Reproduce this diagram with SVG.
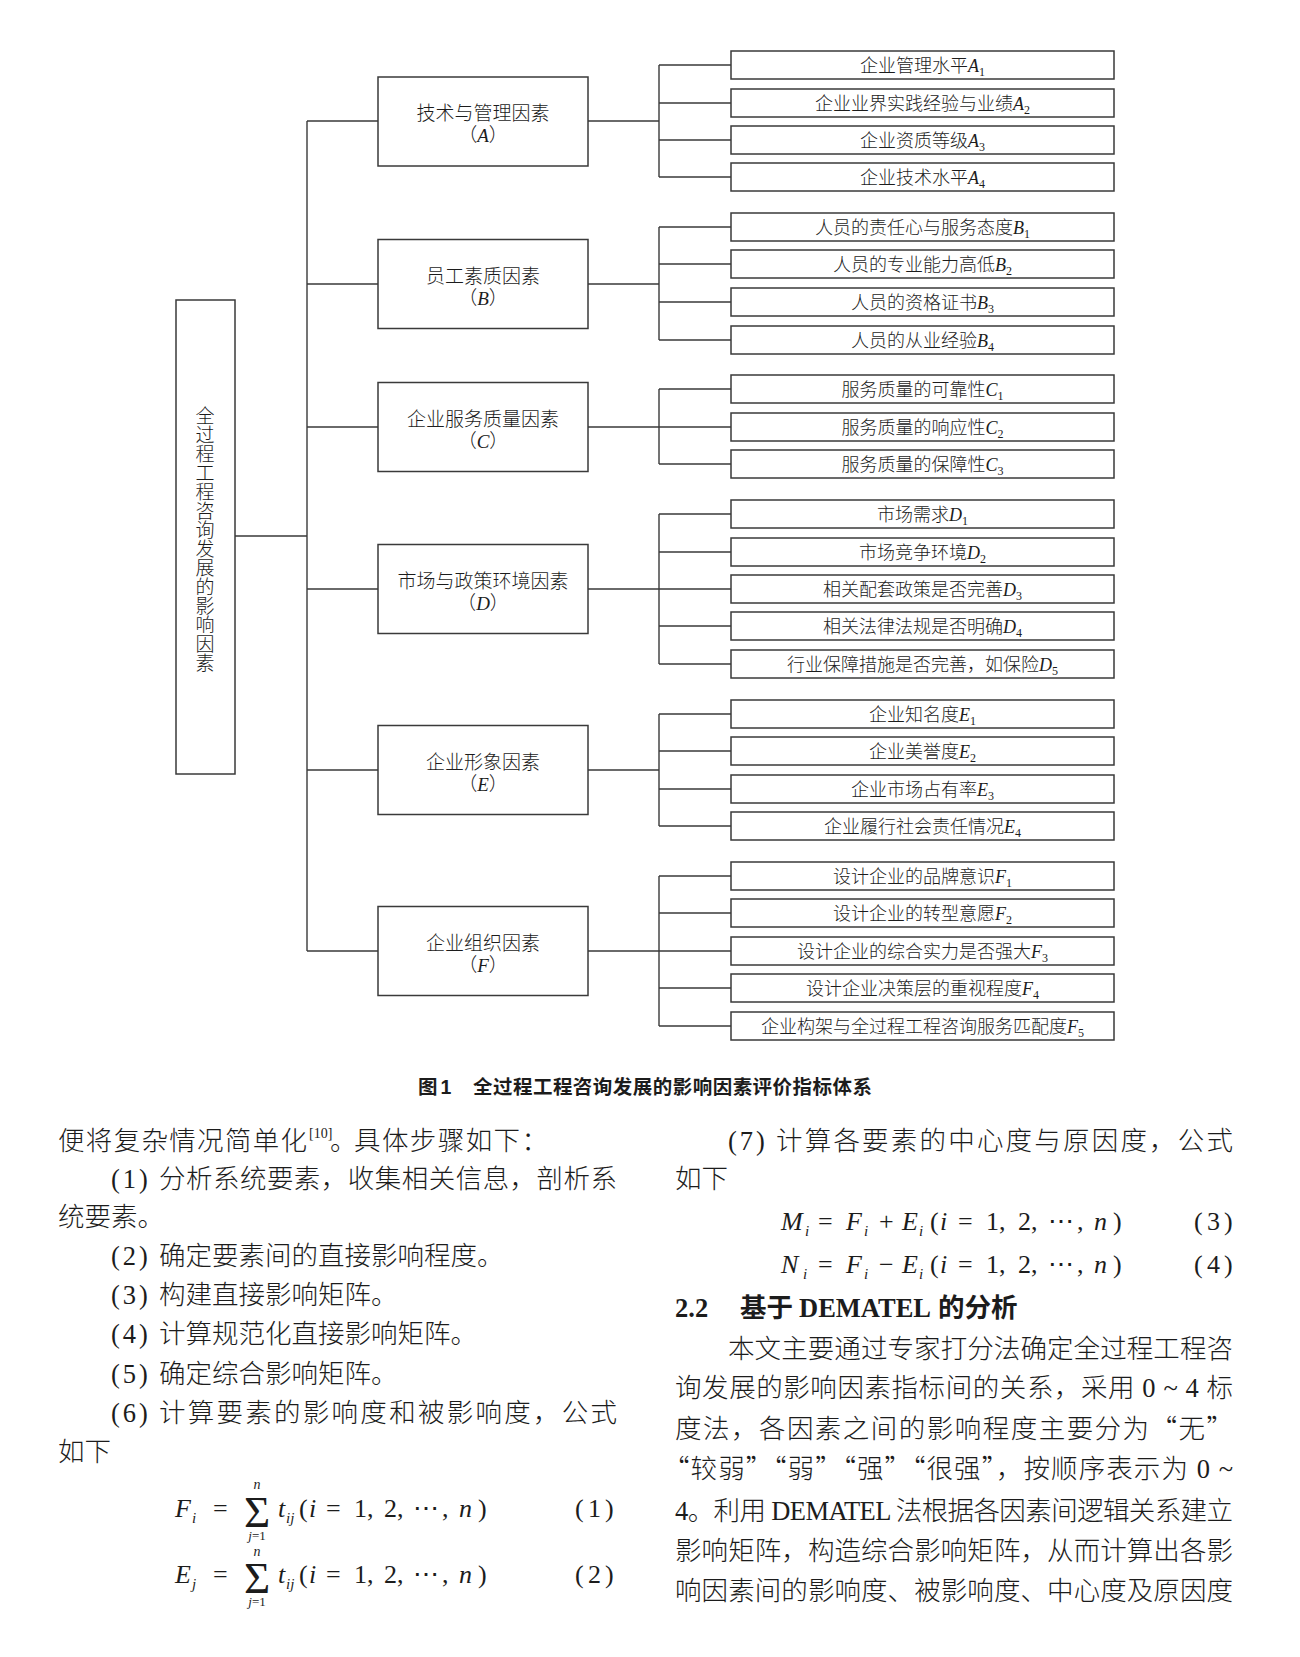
<svg xmlns="http://www.w3.org/2000/svg" width="1300" height="1657" viewBox="0 0 1300 1657">
<style>
.bg{fill:#fff}
.box{fill:#fff;stroke:#3a3a3a;stroke-width:1.5}
.ln{fill:none;stroke:#3a3a3a;stroke-width:1.4}
.cj{font-family:"Noto Sans CJK SC","Noto Sans CJK JP",sans-serif;fill:#1c1c1c;font-weight:300}
.lt{font-family:"Liberation Serif",serif;font-style:normal;font-weight:400}
.it{font-family:"Liberation Serif",serif;font-style:italic;font-weight:400}
.leaf{font-size:18px}
.cat{font-size:19px}
.body{font-size:26.5px}
.sub{font-size:12px}
.pre{letter-spacing:3px}
.eq{font-family:"Liberation Serif","DejaVu Serif",serif;font-size:26px;fill:#1c1c1c}
.eqs{font-family:"Liberation Serif",serif;font-style:italic;fill:#1c1c1c}
.sig{font-family:"Liberation Serif",serif;font-size:45px;fill:#1c1c1c}
.cap{font-family:"Noto Sans CJK SC",sans-serif;font-weight:700;font-size:19.5px;fill:#1c1c1c}
.hd{font-weight:700}
.hd .lt{font-weight:700}
.vt{writing-mode:vertical-rl;text-orientation:upright}
</style>
<rect class="bg" x="0" y="0" width="1300" height="1657"/>

<g id="connectors">
  <path class="ln" d="M235 536H307M307 121V951M307 121H378M307 284H378M307 427H378M307 589H378M307 770H378M307 951H378"/>
  <path class="ln" d="M588 121H659M659 65V177M659 65H731M659 103H731M659 140H731M659 177H731"/>
  <path class="ln" d="M588 284H659M659 227V340M659 227H731M659 264H731M659 302H731M659 340H731"/>
  <path class="ln" d="M588 427H659M659 389V464M659 389H731M659 427H731M659 464H731"/>
  <path class="ln" d="M588 589H659M659 514V664M659 514H731M659 552H731M659 589H731M659 626H731M659 664H731"/>
  <path class="ln" d="M588 770H659M659 714V826M659 714H731M659 751H731M659 789H731M659 826H731"/>
  <path class="ln" d="M588 951H659M659 876V1026M659 876H731M659 913H731M659 951H731M659 988H731M659 1026H731"/>
</g>

<g id="root">
  <rect class="box" x="176" y="300" width="59" height="474"/>
  <text class="cj cat vt" x="205" y="406">全过程工程咨询发展的影响因素</text>
</g>

<g id="cat-A"><rect class="box" x="378" y="77" width="210" height="89"/>
  <text class="cj cat" x="483" y="120" text-anchor="middle">技术与管理因素</text>
  <text class="cj cat" x="483" y="142" text-anchor="middle">（<tspan class="it">A</tspan>）</text></g>
<g id="cat-B"><rect class="box" x="378" y="239.5" width="210" height="89"/>
  <text class="cj cat" x="483" y="283" text-anchor="middle">员工素质因素</text>
  <text class="cj cat" x="483" y="305" text-anchor="middle">（<tspan class="it">B</tspan>）</text></g>
<g id="cat-C"><rect class="box" x="378" y="382.5" width="210" height="89"/>
  <text class="cj cat" x="483" y="426" text-anchor="middle">企业服务质量因素</text>
  <text class="cj cat" x="483" y="448" text-anchor="middle">（<tspan class="it">C</tspan>）</text></g>
<g id="cat-D"><rect class="box" x="378" y="544.5" width="210" height="89"/>
  <text class="cj cat" x="483" y="588" text-anchor="middle">市场与政策环境因素</text>
  <text class="cj cat" x="483" y="610" text-anchor="middle">（<tspan class="it">D</tspan>）</text></g>
<g id="cat-E"><rect class="box" x="378" y="725.5" width="210" height="89"/>
  <text class="cj cat" x="483" y="769" text-anchor="middle">企业形象因素</text>
  <text class="cj cat" x="483" y="791" text-anchor="middle">（<tspan class="it">E</tspan>）</text></g>
<g id="cat-F"><rect class="box" x="378" y="906.5" width="210" height="89"/>
  <text class="cj cat" x="483" y="950" text-anchor="middle">企业组织因素</text>
  <text class="cj cat" x="483" y="972" text-anchor="middle">（<tspan class="it">F</tspan>）</text></g>

<g id="leaf-A1"><rect class="box" x="731" y="51" width="383" height="28"/><text class="cj leaf" x="922.5" y="72" text-anchor="middle">企业管理水平<tspan class="it">A</tspan><tspan class="lt sub" dy="4">1</tspan></text></g>
<g id="leaf-A2"><rect class="box" x="731" y="89" width="383" height="28"/><text class="cj leaf" x="922.5" y="110" text-anchor="middle">企业业界实践经验与业绩<tspan class="it">A</tspan><tspan class="lt sub" dy="4">2</tspan></text></g>
<g id="leaf-A3"><rect class="box" x="731" y="126" width="383" height="28"/><text class="cj leaf" x="922.5" y="147" text-anchor="middle">企业资质等级<tspan class="it">A</tspan><tspan class="lt sub" dy="4">3</tspan></text></g>
<g id="leaf-A4"><rect class="box" x="731" y="163" width="383" height="28"/><text class="cj leaf" x="922.5" y="184" text-anchor="middle">企业技术水平<tspan class="it">A</tspan><tspan class="lt sub" dy="4">4</tspan></text></g>

<g id="leaf-B1"><rect class="box" x="731" y="213" width="383" height="28"/><text class="cj leaf" x="922.5" y="234" text-anchor="middle">人员的责任心与服务态度<tspan class="it">B</tspan><tspan class="lt sub" dy="4">1</tspan></text></g>
<g id="leaf-B2"><rect class="box" x="731" y="250" width="383" height="28"/><text class="cj leaf" x="922.5" y="271" text-anchor="middle">人员的专业能力高低<tspan class="it">B</tspan><tspan class="lt sub" dy="4">2</tspan></text></g>
<g id="leaf-B3"><rect class="box" x="731" y="288" width="383" height="28"/><text class="cj leaf" x="922.5" y="309" text-anchor="middle">人员的资格证书<tspan class="it">B</tspan><tspan class="lt sub" dy="4">3</tspan></text></g>
<g id="leaf-B4"><rect class="box" x="731" y="326" width="383" height="28"/><text class="cj leaf" x="922.5" y="347" text-anchor="middle">人员的从业经验<tspan class="it">B</tspan><tspan class="lt sub" dy="4">4</tspan></text></g>

<g id="leaf-C1"><rect class="box" x="731" y="375" width="383" height="28"/><text class="cj leaf" x="922.5" y="396" text-anchor="middle">服务质量的可靠性<tspan class="it">C</tspan><tspan class="lt sub" dy="4">1</tspan></text></g>
<g id="leaf-C2"><rect class="box" x="731" y="413" width="383" height="28"/><text class="cj leaf" x="922.5" y="434" text-anchor="middle">服务质量的响应性<tspan class="it">C</tspan><tspan class="lt sub" dy="4">2</tspan></text></g>
<g id="leaf-C3"><rect class="box" x="731" y="450" width="383" height="28"/><text class="cj leaf" x="922.5" y="471" text-anchor="middle">服务质量的保障性<tspan class="it">C</tspan><tspan class="lt sub" dy="4">3</tspan></text></g>

<g id="leaf-D1"><rect class="box" x="731" y="500" width="383" height="28"/><text class="cj leaf" x="922.5" y="521" text-anchor="middle">市场需求<tspan class="it">D</tspan><tspan class="lt sub" dy="4">1</tspan></text></g>
<g id="leaf-D2"><rect class="box" x="731" y="538" width="383" height="28"/><text class="cj leaf" x="922.5" y="559" text-anchor="middle">市场竞争环境<tspan class="it">D</tspan><tspan class="lt sub" dy="4">2</tspan></text></g>
<g id="leaf-D3"><rect class="box" x="731" y="575" width="383" height="28"/><text class="cj leaf" x="922.5" y="596" text-anchor="middle">相关配套政策是否完善<tspan class="it">D</tspan><tspan class="lt sub" dy="4">3</tspan></text></g>
<g id="leaf-D4"><rect class="box" x="731" y="612" width="383" height="28"/><text class="cj leaf" x="922.5" y="633" text-anchor="middle">相关法律法规是否明确<tspan class="it">D</tspan><tspan class="lt sub" dy="4">4</tspan></text></g>
<g id="leaf-D5"><rect class="box" x="731" y="650" width="383" height="28"/><text class="cj leaf" x="922.5" y="671" text-anchor="middle">行业保障措施是否完善，如保险<tspan class="it">D</tspan><tspan class="lt sub" dy="4">5</tspan></text></g>

<g id="leaf-E1"><rect class="box" x="731" y="700" width="383" height="28"/><text class="cj leaf" x="922.5" y="721" text-anchor="middle">企业知名度<tspan class="it">E</tspan><tspan class="lt sub" dy="4">1</tspan></text></g>
<g id="leaf-E2"><rect class="box" x="731" y="737" width="383" height="28"/><text class="cj leaf" x="922.5" y="758" text-anchor="middle">企业美誉度<tspan class="it">E</tspan><tspan class="lt sub" dy="4">2</tspan></text></g>
<g id="leaf-E3"><rect class="box" x="731" y="775" width="383" height="28"/><text class="cj leaf" x="922.5" y="796" text-anchor="middle">企业市场占有率<tspan class="it">E</tspan><tspan class="lt sub" dy="4">3</tspan></text></g>
<g id="leaf-E4"><rect class="box" x="731" y="812" width="383" height="28"/><text class="cj leaf" x="922.5" y="833" text-anchor="middle">企业履行社会责任情况<tspan class="it">E</tspan><tspan class="lt sub" dy="4">4</tspan></text></g>

<g id="leaf-F1"><rect class="box" x="731" y="862" width="383" height="28"/><text class="cj leaf" x="922.5" y="883" text-anchor="middle">设计企业的品牌意识<tspan class="it">F</tspan><tspan class="lt sub" dy="4">1</tspan></text></g>
<g id="leaf-F2"><rect class="box" x="731" y="899" width="383" height="28"/><text class="cj leaf" x="922.5" y="920" text-anchor="middle">设计企业的转型意愿<tspan class="it">F</tspan><tspan class="lt sub" dy="4">2</tspan></text></g>
<g id="leaf-F3"><rect class="box" x="731" y="937" width="383" height="28"/><text class="cj leaf" x="922.5" y="958" text-anchor="middle">设计企业的综合实力是否强大<tspan class="it">F</tspan><tspan class="lt sub" dy="4">3</tspan></text></g>
<g id="leaf-F4"><rect class="box" x="731" y="974" width="383" height="28"/><text class="cj leaf" x="922.5" y="995" text-anchor="middle">设计企业决策层的重视程度<tspan class="it">F</tspan><tspan class="lt sub" dy="4">4</tspan></text></g>
<g id="leaf-F5"><rect class="box" x="731" y="1012" width="383" height="28"/><text class="cj leaf" x="922.5" y="1033" text-anchor="middle">企业构架与全过程工程咨询服务匹配度<tspan class="it">F</tspan><tspan class="lt sub" dy="4">5</tspan></text></g>

<g id="caption">
  <text class="cap" x="418" y="1094">图<tspan font-family="Liberation Sans,sans-serif" dx="3">1</tspan></text>
  <text class="cap" x="473" y="1094" textLength="399" lengthAdjust="spacing">全过程工程咨询发展的影响因素评价指标体系</text>
</g>

<g id="left-column" class="cj body">
  <text x="58" y="1150" textLength="249" lengthAdjust="spacing">便将复杂情况简单化</text>
  <text class="lt" x="309" y="1138" font-size="14">[10]</text>
  <text x="330" y="1150">。</text>
  <text x="354" y="1150" textLength="194" lengthAdjust="spacing">具体步骤如下：</text>
  <text class="lt pre" x="111" y="1188">(1)</text>
  <text x="159" y="1188" textLength="458" lengthAdjust="spacing">分析系统要素，收集相关信息，剖析系</text>
  <text x="58" y="1226">统要素。</text>
  <text class="lt pre" x="111" y="1265">(2)</text>
  <text x="159" y="1265">确定要素间的直接影响程度。</text>
  <text class="lt pre" x="111" y="1304">(3)</text>
  <text x="159" y="1304">构建直接影响矩阵。</text>
  <text class="lt pre" x="111" y="1343">(4)</text>
  <text x="159" y="1343">计算规范化直接影响矩阵。</text>
  <text class="lt pre" x="111" y="1383">(5)</text>
  <text x="159" y="1383">确定综合影响矩阵。</text>
  <text class="lt pre" x="111" y="1422">(6)</text>
  <text x="159" y="1422" textLength="458" lengthAdjust="spacing">计算要素的影响度和被影响度，公式</text>
  <text x="58" y="1461">如下</text>
</g>

<g id="equation-1">
  <text class="eq" y="1517"><tspan class="it" x="175">F</tspan><tspan class="it" font-size="15" x="192" dy="6">i</tspan><tspan x="213" dy="-6">=</tspan></text>
  <text class="sig" x="257" y="1527" text-anchor="middle">Σ</text>
  <text class="eqs" x="257" y="1489" font-size="14" text-anchor="middle">n</text>
  <text class="eqs" x="257" y="1540" font-size="13" text-anchor="middle">j<tspan class="lt">=1</tspan></text>
  <text class="eq" y="1517"><tspan class="it" x="278">t</tspan><tspan class="it" font-size="15" x="286" dy="6">ij</tspan><tspan x="299" dy="-6">(</tspan><tspan class="it" x="309">i</tspan><tspan x="326">=</tspan><tspan x="354">1</tspan><tspan x="367">,</tspan><tspan x="384">2</tspan><tspan x="397">,</tspan><tspan x="413">⋯</tspan><tspan x="442">,</tspan><tspan class="it" x="459">n</tspan><tspan x="478">)</tspan></text>
  <text class="eq" y="1517"><tspan x="575">(</tspan><tspan x="588">1</tspan><tspan x="605">)</tspan></text>
</g>
<g id="equation-2">
  <text class="eq" y="1583"><tspan class="it" x="175">E</tspan><tspan class="it" font-size="15" x="192" dy="6">j</tspan><tspan x="213" dy="-6">=</tspan></text>
  <text class="sig" x="257" y="1593" text-anchor="middle">Σ</text>
  <text class="eqs" x="257" y="1556" font-size="14" text-anchor="middle">n</text>
  <text class="eqs" x="257" y="1606" font-size="13" text-anchor="middle">j<tspan class="lt">=1</tspan></text>
  <text class="eq" y="1583"><tspan class="it" x="278">t</tspan><tspan class="it" font-size="15" x="286" dy="6">ij</tspan><tspan x="299" dy="-6">(</tspan><tspan class="it" x="309">i</tspan><tspan x="326">=</tspan><tspan x="354">1</tspan><tspan x="367">,</tspan><tspan x="384">2</tspan><tspan x="397">,</tspan><tspan x="413">⋯</tspan><tspan x="442">,</tspan><tspan class="it" x="459">n</tspan><tspan x="478">)</tspan></text>
  <text class="eq" y="1583"><tspan x="575">(</tspan><tspan x="588">2</tspan><tspan x="605">)</tspan></text>
</g>

<g id="right-column" class="cj body">
  <text class="lt pre" x="728" y="1150">(7)</text>
  <text x="776" y="1150" textLength="457" lengthAdjust="spacing">计算各要素的中心度与原因度，公式</text>
  <text x="675" y="1188">如下</text>
  <text class="hd" x="675" y="1317"><tspan class="lt">2.2</tspan><tspan x="740">基于</tspan><tspan class="lt" x="799">DEMATEL</tspan><tspan x="938">的分析</tspan></text>
  <text x="728" y="1358" textLength="505" lengthAdjust="spacing">本文主要通过专家打分法确定全过程工程咨</text>
  <text x="675" y="1397" textLength="558" lengthAdjust="spacing">询发展的影响因素指标间的关系，采用<tspan class="lt"> 0 ~ 4 </tspan>标</text>
  <text x="675" y="1438" textLength="558" lengthAdjust="spacing">度法，各因素之间的影响程度主要分为“无”</text>
  <text x="663" y="1478" textLength="570" lengthAdjust="spacing">“较弱”“弱”“强”“很强”，按顺序表示为<tspan class="lt"> 0 ~</tspan></text>
  <text x="675" y="1520" textLength="558" lengthAdjust="spacing"><tspan class="lt">4</tspan>。利用<tspan class="lt"> DEMATEL </tspan>法根据各因素间逻辑关系建立</text>
  <text x="675" y="1560" textLength="558" lengthAdjust="spacing">影响矩阵，构造综合影响矩阵，从而计算出各影</text>
  <text x="675" y="1600" textLength="558" lengthAdjust="spacing">响因素间的影响度、被影响度、中心度及原因度</text>
</g>

<g id="equation-3">
  <text class="eq" y="1230"><tspan class="it" x="781">M</tspan><tspan class="it" font-size="15" x="805" dy="6">i</tspan><tspan x="818" dy="-6">=</tspan><tspan class="it" x="846">F</tspan><tspan class="it" font-size="15" x="864" dy="6">i</tspan><tspan x="879" dy="-6">+</tspan><tspan class="it" x="902">E</tspan><tspan class="it" font-size="15" x="919" dy="6">i</tspan><tspan x="930" dy="-6">(</tspan><tspan class="it" x="940">i</tspan><tspan x="958">=</tspan><tspan x="986">1</tspan><tspan x="999">,</tspan><tspan x="1018">2</tspan><tspan x="1031">,</tspan><tspan x="1048">⋯</tspan><tspan x="1077">,</tspan><tspan class="it" x="1094">n</tspan><tspan x="1113">)</tspan></text>
  <text class="eq" y="1230"><tspan x="1194">(</tspan><tspan x="1207">3</tspan><tspan x="1224">)</tspan></text>
</g>
<g id="equation-4">
  <text class="eq" y="1273"><tspan class="it" x="781">N</tspan><tspan class="it" font-size="15" x="803" dy="6">i</tspan><tspan x="818" dy="-6">=</tspan><tspan class="it" x="846">F</tspan><tspan class="it" font-size="15" x="864" dy="6">i</tspan><tspan x="879" dy="-6">−</tspan><tspan class="it" x="902">E</tspan><tspan class="it" font-size="15" x="919" dy="6">i</tspan><tspan x="930" dy="-6">(</tspan><tspan class="it" x="940">i</tspan><tspan x="958">=</tspan><tspan x="986">1</tspan><tspan x="999">,</tspan><tspan x="1018">2</tspan><tspan x="1031">,</tspan><tspan x="1048">⋯</tspan><tspan x="1077">,</tspan><tspan class="it" x="1094">n</tspan><tspan x="1113">)</tspan></text>
  <text class="eq" y="1273"><tspan x="1194">(</tspan><tspan x="1207">4</tspan><tspan x="1224">)</tspan></text>
</g>
</svg>
